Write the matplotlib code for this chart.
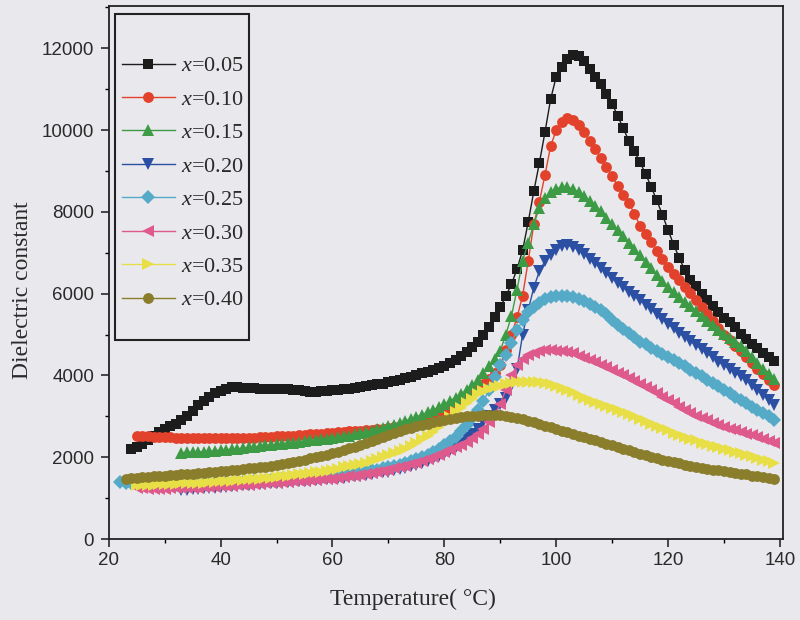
import numpy as np
import matplotlib
matplotlib.use("Agg")
import matplotlib.pyplot as plt
from matplotlib.patches import Rectangle
from matplotlib.ticker import MultipleLocator

plt.rcParams['mathtext.fontset'] = 'custom'
plt.rcParams['mathtext.it'] = 'Liberation Serif:italic'
plt.rcParams['mathtext.rm'] = 'Liberation Serif'

labels = ["x=0.05", "x=0.10", "x=0.15", "x=0.20", "x=0.25", "x=0.30", "x=0.35", "x=0.40"]
colors = ["#1c1c1c", "#e2422b", "#3e9b45", "#2b4fa3", "#55aac8", "#de5a8c", "#e8de45", "#8a7d2c"]
markers = ["s", "o", "^", "v", "D", "<", ">", "o"]

# first temperature of each series (1 °C steps)
t_start = [24, 25, 33, 33, 22, 25, 25, 23]

eps_005 = [2210, 2250, 2330, 2430, 2530, 2620, 2690, 2760, 2820, 2900,
           3010, 3140, 3270, 3380, 3480, 3570, 3630, 3680, 3710, 3710,
           3700, 3690, 3690, 3680, 3680, 3670, 3670, 3660, 3660, 3650,
           3640, 3620, 3600, 3600, 3610, 3620, 3640, 3650, 3670, 3680,
           3700, 3720, 3740, 3760, 3780, 3800, 3830, 3860, 3890, 3930,
           3970, 4010, 4050, 4090, 4130, 4180, 4240, 4300, 4380, 4470,
           4570, 4690, 4830, 4990, 5190, 5420, 5670, 5940, 6230, 6600,
           7060, 7750, 8500, 9200, 9950, 10750, 11300, 11550, 11730, 11840,
           11820, 11700, 11500, 11310, 11120, 10890, 10650, 10350, 10040, 9740,
           9480, 9210, 8930, 8610, 8280, 7930, 7560, 7200, 6880, 6570,
           6330, 6190, 6000, 5840, 5690, 5540, 5400, 5300, 5180, 5020,
           4880, 4770, 4660, 4550, 4450, 4350]

eps_010 = [2520, 2520, 2510, 2500, 2500, 2490, 2490, 2480, 2480, 2470,
           2470, 2470, 2470, 2460, 2460, 2460, 2460, 2460, 2470, 2470,
           2480, 2480, 2490, 2490, 2500, 2510, 2510, 2520, 2530, 2540,
           2550, 2560, 2570, 2580, 2590, 2600, 2610, 2620, 2630, 2640,
           2650, 2660, 2670, 2690, 2700, 2720, 2740, 2760, 2790, 2820,
           2850, 2890, 2940, 3000, 3060, 3130, 3210, 3290, 3370, 3460,
           3560, 3670, 3790, 3920, 4060, 4260, 4620, 4990, 5420, 5950,
           6800, 7700, 8250, 8900, 9600, 10000, 10200, 10290, 10250, 10120,
           9950, 9730, 9540, 9320, 9100, 8870, 8640, 8420, 8210, 7960,
           7660, 7460, 7270, 7050, 6840, 6650, 6480, 6330, 6170, 6010,
           5840, 5670, 5500, 5330, 5170, 5000, 4870, 4730, 4590, 4450,
           4310, 4170, 4030, 3890, 3760]

eps_015 = [2110, 2120, 2130, 2130, 2140, 2150, 2160, 2170, 2180, 2200,
           2210, 2220, 2240, 2250, 2270, 2290, 2300, 2320, 2330, 2350,
           2360, 2380, 2390, 2410, 2420, 2440, 2450, 2470, 2490, 2510,
           2530, 2560, 2590, 2620, 2650, 2680, 2720, 2760, 2800, 2840,
           2890, 2940, 2990, 3040, 3100, 3150, 3230, 3300, 3380, 3460,
           3550, 3640, 3760, 3900, 4050, 4220, 4400, 4600, 5000, 5450,
           6100, 6800, 7250, 7700, 8100, 8340, 8480, 8560, 8600, 8610,
           8560, 8480, 8380, 8270, 8150, 8010, 7860, 7710, 7560, 7400,
           7250, 7090, 6940, 6780, 6620, 6460, 6320, 6170, 6040, 5920,
           5800, 5690, 5580, 5460, 5340, 5230, 5120, 5020, 4920, 4830,
           4720, 4590, 4450, 4310, 4170, 4040, 3920]

eps_020 = [1200, 1210, 1220, 1230, 1240, 1250, 1260, 1270, 1280, 1290,
           1300, 1310, 1320, 1330, 1340, 1350, 1360, 1370, 1380, 1390,
           1400, 1410, 1420, 1430, 1440, 1450, 1460, 1470, 1490, 1500,
           1520, 1530, 1550, 1570, 1590, 1610, 1630, 1650, 1680, 1710,
           1740, 1780, 1820, 1860, 1910, 1960, 2020, 2090, 2170, 2260,
           2360, 2460, 2580, 2700, 2850, 3000, 3150, 3300, 3450, 3750,
           4150, 5000, 5600, 6150, 6550, 6800, 6950, 7080, 7160, 7180,
           7150, 7080, 6980, 6860, 6740, 6620, 6500, 6390, 6270, 6160,
           6050, 5940, 5840, 5730, 5620, 5500, 5380, 5260, 5150, 5040,
           4940, 4840, 4740, 4640, 4540, 4440, 4340, 4250, 4160, 4070,
           3980, 3880, 3760, 3640, 3520, 3400, 3280]

eps_025 = [1400, 1380, 1360, 1340, 1330, 1320, 1320, 1320, 1320, 1320,
           1320, 1330, 1330, 1340, 1340, 1350, 1350, 1360, 1360, 1370,
           1380, 1380, 1390, 1400, 1410, 1420, 1430, 1440, 1450, 1460,
           1470, 1480, 1490, 1500, 1510, 1520, 1530, 1540, 1550, 1570,
           1580, 1600, 1620, 1640, 1660, 1680, 1700, 1730, 1760, 1790,
           1820, 1860, 1900, 1950, 2000, 2060, 2120, 2200, 2290, 2390,
           2500, 2640, 2790, 2960, 3150, 3380, 3640, 3960, 4250, 4500,
           4800, 5100, 5350, 5550, 5680, 5780, 5860, 5910, 5940, 5950,
           5950, 5930, 5880, 5820, 5750, 5670, 5590, 5500, 5350, 5240,
           5130, 5030, 4930, 4830, 4760, 4680, 4600, 4520, 4450, 4380,
           4300, 4220, 4140, 4060, 3980, 3900, 3810, 3730, 3640, 3560,
           3480, 3400, 3320, 3240, 3160, 3080, 3000, 2910]

eps_030 = [1250, 1240, 1230, 1230, 1230, 1230, 1240, 1240, 1250, 1250,
           1260, 1260, 1270, 1270, 1280, 1290, 1300, 1300, 1310, 1320,
           1330, 1340, 1350, 1360, 1370, 1380, 1390, 1400, 1410, 1420,
           1430, 1440, 1450, 1460, 1470, 1480, 1500, 1510, 1530, 1550,
           1570, 1590, 1610, 1640, 1670, 1700, 1730, 1760, 1790, 1830,
           1870, 1910, 1960, 2010, 2060, 2120, 2180, 2240, 2300, 2370,
           2470, 2570, 2680, 2850, 3040, 3300, 3650, 4000, 4250, 4400,
           4500, 4560, 4600, 4620, 4620, 4610, 4590, 4570, 4540, 4480,
           4420, 4370, 4320, 4260, 4200, 4140, 4070, 4000, 3930, 3860,
           3790, 3720, 3640, 3560, 3480, 3400, 3320, 3240, 3160, 3090,
           3020, 2960, 2900, 2840, 2790, 2740, 2700, 2660, 2620, 2580,
           2540, 2490, 2440, 2390, 2340]

eps_035 = [1330, 1330, 1330, 1330, 1340, 1340, 1350, 1350, 1360, 1360,
           1370, 1370, 1380, 1390, 1400, 1410, 1420, 1430, 1440, 1450,
           1460, 1470, 1480, 1490, 1500, 1510, 1530, 1550, 1560, 1580,
           1590, 1610, 1630, 1650, 1670, 1690, 1720, 1750, 1780, 1810,
           1840, 1870, 1910, 1950, 2000, 2050, 2100, 2150, 2210, 2280,
           2360, 2440, 2530, 2620, 2740, 2860, 2980, 3100, 3200, 3320,
           3430, 3540, 3620, 3680, 3720, 3750, 3790, 3820, 3840, 3850,
           3850, 3840, 3830, 3810, 3780, 3740, 3700, 3650, 3590, 3520,
           3460, 3410, 3360, 3310, 3260, 3210, 3160, 3110, 3050, 3000,
           2940, 2880, 2820, 2770, 2710, 2660, 2600, 2550, 2500, 2450,
           2410, 2360, 2320, 2280, 2240, 2200, 2170, 2130, 2100, 2060,
           2020, 1980, 1940, 1900, 1860]

eps_040 = [1480, 1490, 1500, 1510, 1520, 1530, 1540, 1550, 1560, 1570,
           1580, 1590, 1600, 1610, 1620, 1640, 1650, 1660, 1670, 1690,
           1700, 1710, 1730, 1740, 1760, 1770, 1790, 1810, 1830, 1860,
           1880, 1910, 1940, 1970, 2000, 2030, 2060, 2100, 2140, 2180,
           2220, 2260, 2310, 2360, 2400, 2450, 2500, 2550, 2600, 2640,
           2680, 2720, 2760, 2790, 2820, 2850, 2880, 2910, 2940, 2960,
           2980, 3000, 3010, 3020, 3030, 3040, 3040, 3030, 3010, 2990,
           2960, 2930, 2890, 2850, 2810, 2770, 2730, 2690, 2650, 2610,
           2570, 2530, 2490, 2450, 2410, 2370, 2330, 2290, 2250, 2210,
           2170, 2130, 2090, 2050, 2010, 1980, 1940, 1910, 1880, 1850,
           1820, 1790, 1760, 1740, 1720, 1700, 1680, 1660, 1640, 1620,
           1600, 1580, 1550, 1530, 1510, 1490, 1460]

series = [eps_005, eps_010, eps_015, eps_020, eps_025, eps_030, eps_035, eps_040]

bg = "#e9e9ed"
fig = plt.figure(figsize=(8, 6.2), dpi=100, facecolor=bg)
ax = fig.add_axes([0.136, 0.1306, 0.843, 0.8594], facecolor=bg)

msizes = [6.6, 7.8, 8.0, 8.0, 6.8, 8.0, 8.0, 7.8]
for vals, t0, lab, c, m, ms in zip(series, t_start, labels, colors, markers, msizes):
    temps = np.arange(t0, t0 + len(vals))
    ax.plot(temps, vals, color=c, marker=m, markersize=ms, lw=1.0,
            markeredgewidth=0, label='$x$' + lab[1:])

ax.set_xlim(20, 140.6)
ax.set_ylim(0, 13030)
ax.xaxis.set_major_locator(MultipleLocator(20))
ax.xaxis.set_minor_locator(MultipleLocator(10))
ax.yaxis.set_major_locator(MultipleLocator(2000))
ax.yaxis.set_minor_locator(MultipleLocator(1000))
ax.tick_params(which='major', direction='out', length=5.5, width=1.2, labelsize=13.5,
               colors='#2a2a2a', top=False, right=False)
ax.tick_params(which='minor', direction='out', length=3, width=1.0, top=False, right=False)
ax.tick_params(axis='x', which='major', pad=4)
ax.tick_params(axis='y', which='major', pad=5)
for lbl in ax.get_xticklabels() + ax.get_yticklabels():
    lbl.set_fontfamily('Liberation Sans')
for sp in ax.spines.values():
    sp.set_linewidth(1.3)
    sp.set_color('#222222')

ax.set_xlabel('Temperature( °C)', fontsize=17, family='Liberation Serif', color='#2a2a2a')
ax.set_ylabel('Dielectric constant', fontsize=17, family='Liberation Serif', color='#2a2a2a')
ax.xaxis.set_label_coords(0.451, -0.094)
ax.yaxis.set_label_coords(-0.113, 0.467)

leg = ax.legend(loc='upper left', bbox_to_anchor=(0.0193, 0.907), frameon=False,
                prop={'family': 'Liberation Serif', 'size': 16}, borderpad=0,
                borderaxespad=0, handlelength=2.4, handletextpad=0.25,
                labelspacing=0.58)
for t in leg.get_texts():
    t.set_color('#2a2a2a')
ax.add_patch(Rectangle((0.0089, 0.3734), 0.1988, 0.6116, transform=ax.transAxes,
                       fill=False, lw=1.5, ec='#222222', zorder=5))

fig.savefig('out.png', dpi=100, facecolor=bg)
